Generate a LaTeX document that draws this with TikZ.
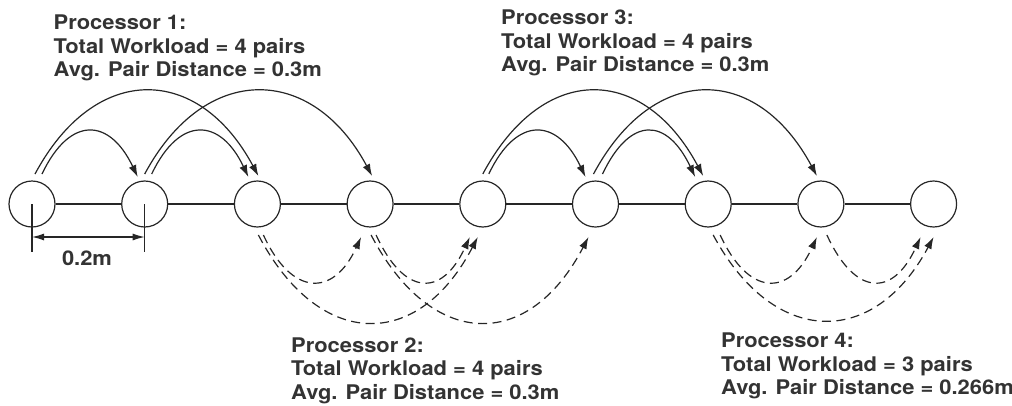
\documentclass[tikz,border=0pt]{standalone}
\usepackage{fontspec}
\setmainfont{TeX Gyre Heros}[FakeStretch=1.085]
\usetikzlibrary{arrows.meta,calc}
\begin{document}
\begin{tikzpicture}[x=1pt,y=-1pt,
  proc/.style={circle,draw=black!85,line width=1.2pt,minimum size=46pt,inner sep=0pt},
  link/.style={draw=black!85,line width=1.2pt},
  arcsolid/.style={draw=black!85,line width=1.2pt,-{Latex[length=12pt,width=8pt]}},
  arcdash/.style={arcsolid,dash pattern=on 9pt off 5.5pt},
  dimarrow/.style={draw=black!85,line width=1.2pt,{Latex[length=12pt,width=7pt]}-{Latex[length=12pt,width=7pt]}},
  infotext/.style={text=black!80,font=\fontsize{20.2}{23.5}\selectfont\bfseries,align=left,anchor=north west,inner sep=0pt}
]
\useasboundingbox (0,0) rectangle (1012,405);

% processing elements
\foreach \i/\x in {1/32,2/144.7,3/257.4,4/370.1,5/482.8,6/595.5,7/708.2,8/820.9,9/933.6}
  \node[proc] (c\i) at (\x,204) {};

% links
\foreach \a/\b in {1/2,2/3,3/4,4/5,5/6,6/7,7/8,8/9}
  \draw[link] (c\a) -- (c\b);

% Processor 1 (solid, above)
\draw[arcsolid] ($(c1)+(3,-30)$) .. controls +(60,-112) and +(-60,-112) .. ($(c3)+(1,-28)$);
\draw[arcsolid] ($(c1)+(10,-30)$) .. controls +(28,-59) and +(-28,-59) .. ($(c2)+(-7,-27)$);
\draw[arcsolid] ($(c2)+(0,-30)$) .. controls +(60,-112) and +(-60,-112) .. ($(c4)+(2,-28)$);
\draw[arcsolid] ($(c2)+(7,-30)$) .. controls +(28,-59) and +(-28,-59) .. ($(c3)+(-9,-27)$);

% Processor 3 (solid, above)
\draw[arcsolid] ($(c5)+(0,-30)$) .. controls +(60,-112) and +(-60,-112) .. ($(c7)+(-5,-28)$);
\draw[arcsolid] ($(c5)+(6,-30)$) .. controls +(28,-59) and +(-28,-59) .. ($(c6)+(-10,-27)$);
\draw[arcsolid] ($(c6)+(-2,-30)$) .. controls +(60,-112) and +(-60,-112) .. ($(c8)+(-4,-28)$);
\draw[arcsolid] ($(c6)+(7,-30)$) .. controls +(28,-59) and +(-28,-59) .. ($(c7)+(-13,-27)$);

% Processor 2 (dashed, below)
\draw[arcdash] ($(c3)+(1,31)$) .. controls +(60,115) and +(-60,115) .. ($(c5)+(-5,33)$);
\draw[arcdash] ($(c3)+(6,31)$) .. controls +(28,61) and +(-28,61) .. ($(c4)+(-9,33)$);
\draw[arcdash] ($(c4)+(1,31)$) .. controls +(60,115) and +(-60,115) .. ($(c6)+(-7,33)$);
\draw[arcdash] ($(c4)+(6,31)$) .. controls +(28,61) and +(-28,61) .. ($(c5)+(-13,33)$);

% Processor 4 (dashed, below)
\draw[arcdash] ($(c7)+(5,31)$) .. controls +(60,112) and +(-60,112) .. ($(c9)+(0,33)$);
\draw[arcdash] ($(c7)+(12,31)$) .. controls +(28,61) and +(-28,61) .. ($(c8)+(-4,33)$);
\draw[arcdash] ($(c8)+(6,31)$) .. controls +(28,61) and +(-28,61) .. ($(c9)+(-13,33)$);

% dimension
\coordinate (t1) at ($(c1)+(0,48)$);
\coordinate (t2) at ($(c2)+(0,48)$);
\draw[link] (c1.center) -- (t1);
\draw[link] (c2.center) -- (t2);
\coordinate (m1) at ($(c1)+(0,33)$);
\coordinate (m2) at ($(c2)+(0,33)$);
\draw[dimarrow] (m1) -- (m2);
\node[text=black!80,font=\fontsize{20.2}{23.5}\selectfont\bfseries,anchor=base,inner sep=0pt] (dim) at (87,265) {0.2m};

% labels
\node[infotext] (p1) at (53.5,15) {Processor 1:\\Total Workload = 4 pairs\\Avg. Pair Distance = 0.3m};
\node[infotext] (p3) at (501,10) {Processor 3:\\Total Workload = 4 pairs\\Avg. Pair Distance = 0.3m};
\node[infotext] (p2) at (291,337.5) {Processor 2:\\Total Workload = 4 pairs\\Avg. Pair Distance = 0.3m};
\node[infotext] (p4) at (721,333) {Processor 4:\\Total Workload = 3 pairs\\Avg. Pair Distance = 0.266m};
\end{tikzpicture}
\end{document}
